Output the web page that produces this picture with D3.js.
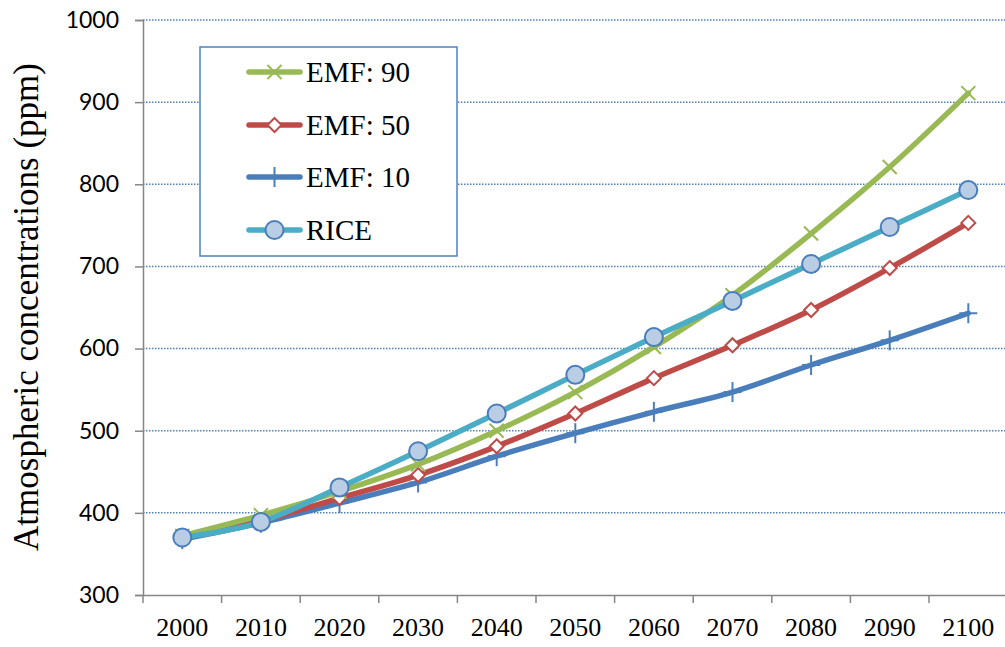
<!DOCTYPE html>
<html><head><meta charset="utf-8">
<script src="https://cdn.jsdelivr.net/npm/d3@7"></script>
<style>body{margin:0;background:#fff}svg{display:block}</style>
</head><body>
<svg id="chart" width="1005" height="647"></svg>
<script>
const years = ["2000","2010","2020","2030","2040","2050","2060","2070","2080","2090","2100"];
const yTicks = [300,400,500,600,700,800,900,1000];
const emf90 = [372,397,426,459,500,547,602,665,740,821,911];
const emf50 = [370,390,418,446,481,521,564,604,647,698,753];
const emf10 = [368,388,412,437,469,497,523,547,580,610,643];
const rice  = [370,389,431,475,521,568,614,658,703,748,793];
const seriesNames = ["EMF: 90","EMF: 50","EMF: 10","RICE"];

const svg = d3.select("#chart");
const x = d3.scaleBand().domain(years).range([143, 1007.6]).padding(0);
const y = d3.scaleLinear().domain([300,1000]).range([595, 20]);
const cx = d => x(d) + x.bandwidth()/2;

// gridlines
svg.append("g").selectAll("line").data(yTicks.filter(v=>v>300)).join("line")
  .attr("x1",143).attr("x2",1005).attr("y1",d=>y(d)).attr("y2",d=>y(d))
  .attr("stroke","#4F81BD").attr("stroke-width",1.5).attr("stroke-dasharray","1.5,1.5");

// y axis
const yAxis = d3.axisLeft(y).tickValues(yTicks).tickFormat(d3.format("d")).tickSize(8).tickPadding(16);
const gy = svg.append("g").attr("transform","translate(143,0)").call(yAxis);
gy.select(".domain").attr("stroke","#868686").attr("stroke-width",1.5);
gy.selectAll(".tick line").attr("stroke","#868686").attr("stroke-width",1.5);
gy.selectAll(".tick text").attr("font-family","Lato, 'Liberation Sans', sans-serif").attr("font-size",23).attr("fill","#000");

// x axis
const xAxis = d3.axisBottom(x).tickSize(0).tickPadding(23);
const gx = svg.append("g").attr("transform","translate(0,595)").call(xAxis);
gx.select(".domain").attr("stroke","#868686").attr("stroke-width",1.5);
gx.selectAll(".tick text").attr("font-family","'Liberation Serif', serif").attr("font-size",26).attr("fill","#000");
// x tick marks between categories
svg.append("g").selectAll("line").data(years).join("line")
  .attr("x1",d=>x(d)).attr("x2",d=>x(d)).attr("y1",595).attr("y2",603)
  .attr("stroke","#868686").attr("stroke-width",1.5);

// y title
svg.append("text").attr("transform","translate(38,307) rotate(-90)")
  .attr("text-anchor","middle").attr("font-family","'Liberation Serif', serif")
  .attr("font-size",35).attr("fill","#000").text("Atmospheric concentrations (ppm)");

const line = d3.line().x((d,i)=>cx(years[i])).y(d=>y(d)).curve(d3.curveCatmullRom.alpha(0));

const series = [
  {name:seriesNames[2], data:emf10, color:"#4A7EBB", marker:"plus"},
  {name:seriesNames[1], data:emf50, color:"#BE4B48", marker:"diamond"},
  {name:seriesNames[0], data:emf90, color:"#98B954", marker:"x"},
  {name:seriesNames[3], data:rice, color:"#4BACC6", marker:"circle"}
];

function drawMarker(g, type, color){
  if(type==="plus"){
    g.append("line").attr("x1",-9).attr("x2",9).attr("y1",0).attr("y2",0).attr("stroke",color).attr("stroke-width",2);
    g.append("line").attr("x1",0).attr("x2",0).attr("y1",-10).attr("y2",10).attr("stroke",color).attr("stroke-width",2);
  } else if(type==="x"){
    g.append("line").attr("x1",-7).attr("x2",7).attr("y1",-7).attr("y2",7).attr("stroke",color).attr("stroke-width",2);
    g.append("line").attr("x1",-7).attr("x2",7).attr("y1",7).attr("y2",-7).attr("stroke",color).attr("stroke-width",2);
  } else if(type==="diamond"){
    g.append("path").attr("d","M0,-7L7,0L0,7L-7,0Z").attr("fill","#fff").attr("stroke",color).attr("stroke-width",2);
  } else if(type==="circle"){
    g.append("circle").attr("r",9).attr("fill","#B9CDE5").attr("stroke","#4A7EBB").attr("stroke-width",2);
  }
}

series.forEach(s=>{
  svg.append("path").datum(s.data).attr("d",line).attr("fill","none")
    .attr("stroke",s.color).attr("stroke-width",5.5).attr("stroke-linejoin","round").attr("stroke-linecap","round");
  s.data.forEach((v,i)=>{
    const g = svg.append("g").attr("transform",`translate(${cx(years[i])},${y(v)})`);
    drawMarker(g, s.marker, s.color);
  });
});

// legend
const lg = svg.append("g");
lg.append("rect").attr("x",200).attr("y",47).attr("width",257).attr("height",209)
  .attr("fill","#fff").attr("stroke","#4F81BD").attr("stroke-width",1.5);
const legendOrder = [series[2], series[1], series[0], series[3]];
const legendY = [72,125,177,230];
legendOrder.forEach((s,i)=>{
  const yy = legendY[i];
  lg.append("line").attr("x1",249).attr("x2",300).attr("y1",yy).attr("y2",yy)
    .attr("stroke",s.color).attr("stroke-width",5.5).attr("stroke-linecap","round");
  drawMarker(lg.append("g").attr("transform",`translate(274.5,${yy})`), s.marker, s.color);
  lg.append("text").attr("x",306).attr("y",yy+10).attr("font-family","'Liberation Serif', serif")
    .attr("font-size",29).attr("fill","#000").text(s.name);
});
</script>
</body></html>
